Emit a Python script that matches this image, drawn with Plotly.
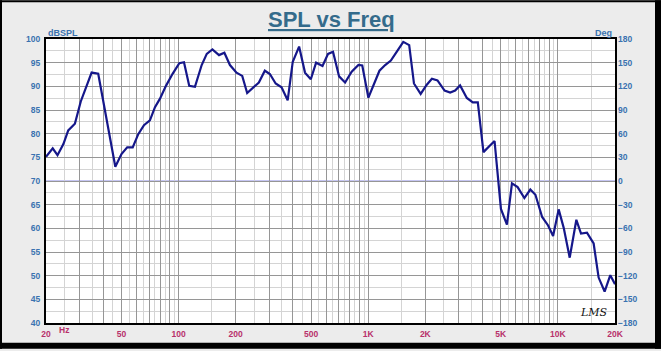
import plotly.graph_objects as go

# ---- data ----
freq_hz = [20, 21.7, 23.0, 24.7, 26.2, 28.4, 30.5, 32.8, 34.8, 37.7, 40, 43.5, 46.4, 50,
           53.6, 57.3, 61.3, 65.7, 70.6, 75.1, 79.8, 85.8, 93, 100.9, 106.8, 113.8, 122,
           132.4, 140.8, 150.8, 163.4, 174.4, 186.6, 202, 216.6, 230, 247, 265, 285, 303,
           325, 349, 376, 400, 432, 464, 498, 531, 574, 614, 652, 702, 755, 818, 888, 930,
           1002, 1066, 1146, 1228, 1316, 1412, 1530, 1644, 1742, 1890, 2036, 2166, 2318,
           2526, 2704, 2872, 3050, 3310, 3558, 3782, 4050, 4358, 4634, 5008, 5386, 5724,
           6132, 6656, 7156, 7610, 8258, 8878, 9432, 10092, 10730, 11540, 12512, 13240,
           14232, 15432, 16396, 17632, 18888, 20000]
spl_db = [75.1, 76.9, 75.45, 77.8, 80.7, 82.1, 86.8, 90.0, 92.9, 92.65, 87.2, 79.5, 73.0, 75.7,
          77.1, 77.1, 79.9, 81.8, 82.8, 85.6, 87.4, 90.1, 92.65, 94.9, 95.1, 90.1, 89.9,
          94.5, 96.85, 97.8, 96.6, 97.1, 94.5, 92.9, 92.2, 88.6, 89.65, 90.8, 93.3, 92.6,
          90.6, 89.8, 87.05, 95.2, 98.4, 92.9, 91.5, 95.0, 94.3, 96.85, 97.3, 92.1, 90.8,
          93.1, 94.5, 94.4, 87.6, 90.35, 93.3, 94.5, 95.45, 97.3, 99.4, 98.7, 90.6, 88.4,
          90.35, 91.6, 91.25, 89.1, 88.7, 89.1, 90.2, 87.55, 86.6, 86.6, 76.1, 77.4, 78.45,
          64.1, 60.8, 69.5, 68.7, 66.4, 68.2, 67.1, 62.4, 60.6, 58.4, 64.0, 60.1, 53.8,
          61.8, 58.9, 59.1, 56.8, 49.6, 46.65, 50.1, 48.2]

x_major = [20, 30, 40, 50, 60, 70, 80, 90,
           100, 200, 300, 400, 500, 600, 700, 800, 900,
           1000, 2000, 3000, 4000, 5000, 6000, 7000, 8000, 9000,
           10000, 20000]
x_major_text = {20: "20", 50: "50", 100: "100", 200: "200", 500: "500",
                1000: "1K", 2000: "2K", 5000: "5K", 10000: "10K", 20000: "20K"}
x_minor = [25, 35, 45, 55, 65, 75, 85, 95,
           150, 250, 350, 450, 550, 650, 750, 850, 950,
           1500, 2500, 3500, 4500, 5500, 6500, 7500, 8500, 9500,
           15000]
spl_ticks = list(range(40, 101, 5))
spl_minor = [42.5 + 5 * i for i in range(12)]
deg_ticks = list(range(-180, 181, 30))

# ---- styles ----
W, H = 661, 351
ML, MR, MT, MB = 46, 46, 39, 26
PW, PH = W - ML - MR, H - MT - MB
DARK = "#969696"
LIGHT = "#d4d4d4"
BLUE_TXT = "#3a72b0"
RED_TXT = "#b8306a"
FONT = "Liberation Sans, Arial, sans-serif"


def px(xp):
    return (xp - ML) / PW


def py(yp):
    return (H - MB - yp) / PH


def frame_rect(x0, y0, x1, y1):
    return dict(type="rect", xref="paper", yref="paper", layer="below",
                x0=px(x0), x1=px(x1), y0=py(y1), y1=py(y0),
                fillcolor="#000000", line=dict(width=0))


fig = go.Figure()
fig.add_trace(go.Scatter(x=freq_hz, y=spl_db, mode="lines",
                         line=dict(color="#15178a", width=2.2),
                         hoverinfo="skip", showlegend=False))
fig.add_trace(go.Scatter(x=[], y=[], yaxis="y2", showlegend=False, hoverinfo="skip"))

fig.update_layout(
    width=W, height=H,
    margin=dict(l=ML, r=MR, t=MT, b=MB, pad=0),
    paper_bgcolor="#ececec",
    plot_bgcolor="#ffffff",
    showlegend=False,
    xaxis=dict(
        type="log", range=[1.30103, 4.30103],
        tickmode="array", tickvals=x_major,
        ticktext=[x_major_text.get(v, "") for v in x_major],
        showgrid=True, gridcolor=DARK, gridwidth=1,
        minor=dict(tickmode="array", tickvals=x_minor, showgrid=True,
                   gridcolor=LIGHT, gridwidth=1, ticklen=0),
        ticks="", ticklabelstandoff=2,
        tickfont=dict(family=FONT, size=8.5, color=RED_TXT, weight="bold"),
        showline=True, linecolor="#000000", linewidth=2, mirror=True,
        zeroline=False,
    ),
    yaxis=dict(
        range=[40, 100], tickmode="array", tickvals=spl_ticks,
        showgrid=True, gridcolor=DARK, gridwidth=1,
        minor=dict(tickmode="array", tickvals=spl_minor, showgrid=True,
                   gridcolor=LIGHT, gridwidth=1, ticklen=0),
        ticks="", ticklabelstandoff=2,
        tickfont=dict(family=FONT, size=8.5, color=BLUE_TXT, weight="bold"),
        showline=True, linecolor="#000000", linewidth=2, mirror=True,
        zeroline=False,
    ),
    yaxis2=dict(
        range=[-180, 180], tickmode="array", tickvals=deg_ticks,
        overlaying="y", side="right", showgrid=False, zeroline=False,
        ticks="", ticklabelstandoff=2,
        tickfont=dict(family=FONT, size=8.5, color=BLUE_TXT, weight="bold"),
        showline=False,
    ),
    shapes=[
        frame_rect(0, 0, W, 2),
        frame_rect(0, 0, 2, H),
        frame_rect(655, 0, W, H),
        frame_rect(0, 345, W, H),
        dict(type="line", xref="x domain", yref="y2", layer="below",
             x0=0, x1=1, y0=0, y1=0, line=dict(color="#8c8ce6", width=1)),
    ],
    annotations=[
        dict(text="<b><u>SPL vs Freq</u></b>", xref="paper", yref="paper",
             x=px(331), y=py(19), xanchor="center", yanchor="middle", showarrow=False,
             font=dict(family=FONT, size=22, color="#346b8b")),
        dict(text="dBSPL", xref="paper", yref="paper",
             x=px(46), y=py(33), xanchor="left", yanchor="middle", showarrow=False,
             font=dict(family=FONT, size=9, color=BLUE_TXT, weight="bold")),
        dict(text="Deg", xref="paper", yref="paper",
             x=px(614), y=py(33), xanchor="right", yanchor="middle", showarrow=False,
             font=dict(family=FONT, size=9, color=BLUE_TXT, weight="bold")),
        dict(text="Hz", xref="paper", yref="paper",
             x=px(57), y=py(332), xanchor="left", yanchor="middle", showarrow=False,
             font=dict(family=FONT, size=8.5, color=RED_TXT, weight="bold")),
        dict(text="<i>LMS</i>", xref="paper", yref="paper",
             x=px(594), y=py(314), xanchor="center", yanchor="middle", showarrow=False,
             font=dict(family="DejaVu Serif, serif", size=11, color="#111111")),
    ],
)

fig.write_html("out.html")
